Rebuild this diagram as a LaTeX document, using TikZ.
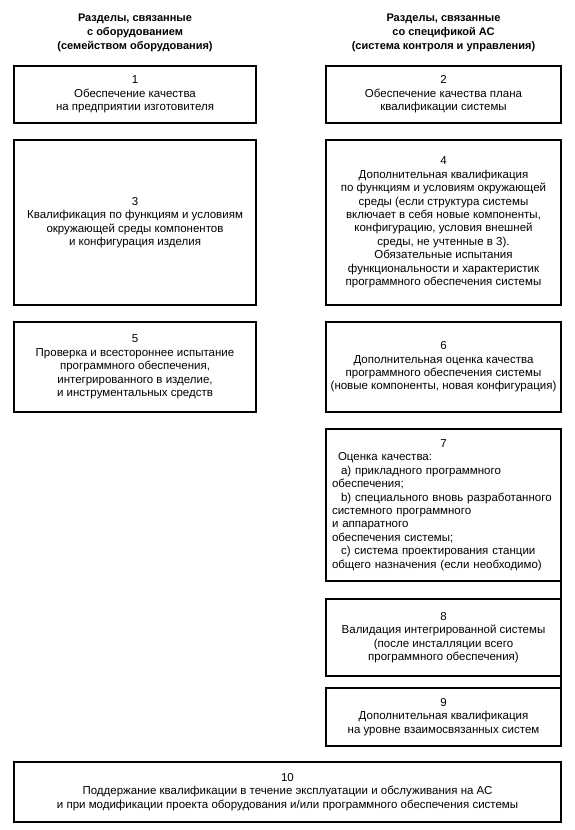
\documentclass[tikz,border=0pt]{standalone}
\usepackage{fontspec}
\setmainfont{Liberation Sans}
\usepackage{tikz}
\usetikzlibrary{positioning}

\begin{document}
\begin{tikzpicture}[x=1pt, y=-1pt,
  head/.style={align=center, font=\fontsize{11}{14}\selectfont\bfseries, inner sep=0pt},
  leftbox/.style={draw, line width=1.5pt, outer sep=0pt, minimum width=242pt, align=center, font=\fontsize{11.5}{13.4}\selectfont, inner sep=3pt},
  rightbox/.style={draw, line width=1.5pt, outer sep=0pt, minimum width=235pt, align=center, font=\fontsize{11.5}{13.4}\selectfont, inner sep=3pt},
  link/.style={line width=1.5pt}
]
\useasboundingbox (0,0) rectangle (575,830);

\node[head] (h1) at (135,33) {Разделы, связанные\\с оборудованием\\(семейством оборудования)};
\node[head] (h2) at (443.5,33) {Разделы, связанные\\со спецификой АС\\(система контроля и управления)};

\node[leftbox, minimum height=57pt] (b1) at (135,94.5) {1\\Обеспечение качества\\на предприятии изготовителя};
\node[rightbox, minimum height=57pt] (b2) at (443.5,94.5) {2\\Обеспечение качества плана\\квалификации системы};

\node[leftbox, minimum height=165pt] (b3) at (135,222.5) {3\\Квалификация по функциям и условиям\\окружающей среды компонентов\\и конфигурация изделия};
\node[rightbox, minimum height=165pt] (b4) at (443.5,222.5) {4\\Дополнительная квалификация\\по функциям и условиям окружающей\\среды (если структура системы\\включает в себя новые компоненты,\\конфигурацию, условия внешней\\среды, не учтенные в 3).\\Обязательные испытания\\функциональности и характеристик\\программного обеспечения системы};

\node[leftbox, minimum height=90pt] (b5) at (135,367) {5\\Проверка и всестороннее испытание\\программного обеспечения,\\интегрированного в изделие,\\и инструментальных средств};
\node[rightbox, minimum height=90pt] (b6) at (443.5,367) {6\\Дополнительная оценка качества\\программного обеспечения системы\\(новые компоненты, новая конфигурация)};

\node[rightbox, minimum height=152pt, text width=223pt, align=left, inner xsep=6pt] (b7) at (443.5,505) {\hskip0pt plus1filll 7\hskip0pt plus1filll\null\\
\hspace*{6pt}Оценка качества:\\
\hspace*{9pt}а) прикладного программного\\
обеспечения;\\
\hspace*{9pt}b) специального вновь разработанного\\
системного программного\\
и аппаратного\\
обеспечения системы;\\
\hspace*{9pt}c) система проектирования станции\\
общего назначения (если необходимо)};

\node[rightbox, minimum height=77pt] (b8) at (443.5,637.5) {8\\Валидация интегрированной системы\\(после инсталляции всего\\программного обеспечения)};
\node[rightbox, minimum height=58pt] (b9) at (443.5,717) {9\\Дополнительная квалификация\\на уровне взаимосвязанных систем};

\node[leftbox, minimum width=547pt, minimum height=60pt] (b10) at (287.5,792) {10\\Поддержание квалификации в течение эксплуатации и обслуживания на АС\\и при модификации проекта оборудования и/или программного обеспечения системы};

% right edge runs on from 7 down to 9
\draw[link] (b7.south east) -- (b8.north east);
\draw[link] (b8.south east) -- (b9.north east);
\end{tikzpicture}
\end{document}
